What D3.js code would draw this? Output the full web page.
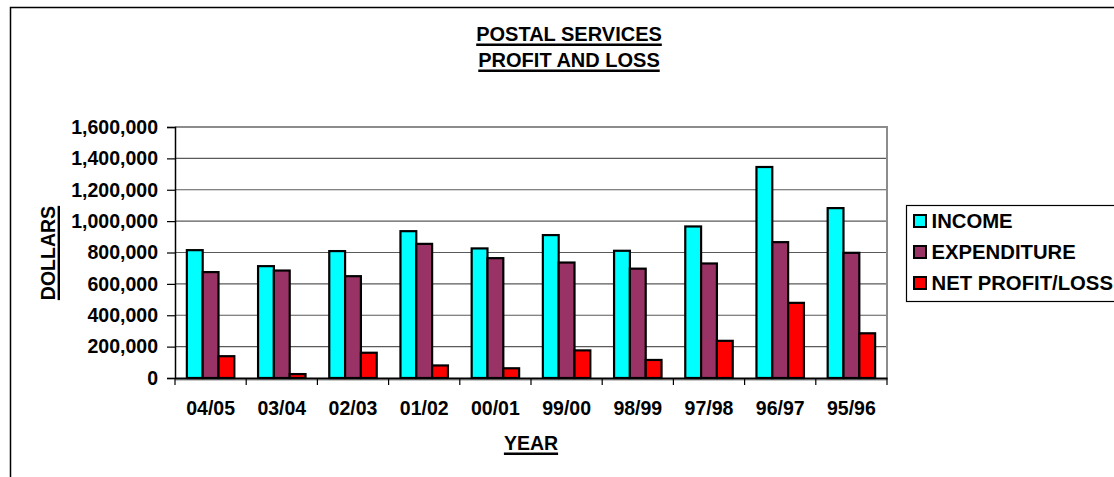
<!DOCTYPE html>
<html>
<head>
<meta charset="utf-8">
<script src="https://cdn.jsdelivr.net/npm/d3@7"></script>
<style>
  html, body { margin: 0; padding: 0; background: #fff; }
  svg { display: block; }
  text { font-family: "Liberation Sans", Arial, sans-serif; font-weight: bold; fill: #000; }
</style>
</head>
<body>
<svg id="chart" width="1114" height="477"></svg>
<script>
// Postal services profit and loss, by financial year
const years = ["04/05", "03/04", "02/03", "01/02", "00/01", "99/00", "98/99", "97/98", "96/97", "95/96"];
const income = [815000, 713000, 809000, 936000, 826000, 911000, 811000, 966000, 1345000, 1083000];
const expenditure = [675000, 685000, 649000, 855000, 764000, 736000, 697000, 730000, 866000, 798000];
const netProfit = [139000, 25000, 161000, 80000, 62000, 176000, 115000, 237000, 479000, 285000];
const seriesNames = ["INCOME", "EXPENDITURE", "NET PROFIT/LOSS"];
const seriesColors = ["#00FFFF", "#993366", "#FF0000"];
const yTicks = [0, 200000, 400000, 600000, 800000, 1000000, 1200000, 1400000, 1600000];
const titleLines = ["POSTAL SERVICES", "PROFIT AND LOSS"];

const svg = d3.select("#chart");
const plot = { left: 175, top: 127, right: 887, bottom: 378 };

// outer chart frame
svg.append("rect")
  .attr("x", 10.5).attr("y", 7.5)
  .attr("width", 1130).attr("height", 500)
  .attr("fill", "#fff").attr("stroke", "#000").attr("stroke-width", 1.5);

const x = d3.scaleBand().domain(years).range([plot.left, plot.right]).padding(0);
const y = d3.scaleLinear().domain([0, 1600000]).range([plot.bottom, plot.top]);

// bars: gap between groups is 150% of a bar width
const bw = x.bandwidth() / 4.5;
const inner = d3.scaleBand().domain(seriesNames).range([0, bw * 3]).padding(0);

// gridlines
svg.append("g")
  .selectAll("line")
  .data(yTicks.filter(d => d > 0 && d < 1600000))
  .join("line")
  .attr("x1", plot.left).attr("x2", plot.right)
  .attr("y1", d => y(d)).attr("y2", d => y(d))
  .attr("stroke", "#5a5a5a").attr("stroke-width", 1.2);

// plot area top and right border
svg.append("path")
  .attr("d", `M${plot.left},${y(1600000)}H${plot.right}V${plot.bottom}`)
  .attr("fill", "none").attr("stroke", "#8c8c8c").attr("stroke-width", 2);

// soft shadow along the baseline
svg.append("line")
  .attr("x1", plot.left).attr("x2", plot.right)
  .attr("y1", plot.bottom + 2).attr("y2", plot.bottom + 2)
  .attr("stroke", "#c8c8c8").attr("stroke-width", 2);

const seriesData = [income, expenditure, netProfit];
const barRows = [];
years.forEach((yr, i) => {
  seriesNames.forEach((s, j) => barRows.push({ year: yr, series: s, color: seriesColors[j], value: seriesData[j][i] }));
});

svg.append("g")
  .selectAll("rect")
  .data(barRows)
  .join("rect")
  .attr("x", d => x(d.year) + bw * 0.75 + inner(d.series))
  .attr("width", inner.bandwidth())
  .attr("y", d => y(d.value))
  .attr("height", d => y(0) - y(d.value))
  .attr("fill", d => d.color)
  .attr("stroke", "#000").attr("stroke-width", 2.2);

// y axis
const yAxis = svg.append("g")
  .attr("transform", `translate(${plot.left},0)`)
  .call(d3.axisLeft(y).tickValues(yTicks).tickFormat(d3.format(",")).tickSize(8).tickPadding(9));
yAxis.select(".domain").attr("stroke", "#000").attr("stroke-width", 1.5);
yAxis.selectAll(".tick line").attr("stroke", "#000").attr("stroke-width", 1.2);
yAxis.selectAll("text")
  .style("font-family", "'Liberation Sans', Arial, sans-serif")
  .style("font-weight", "bold").style("font-size", "19.5px").attr("fill", "#000");

// x axis labels
const xAxis = svg.append("g")
  .attr("transform", `translate(0,${plot.bottom})`)
  .call(d3.axisBottom(x).tickSize(0).tickPadding(23));
xAxis.select(".domain").attr("stroke", "#000").attr("stroke-width", 2);
xAxis.selectAll("text")
  .style("font-family", "'Liberation Sans', Arial, sans-serif")
  .style("font-weight", "bold").style("font-size", "19.5px").attr("fill", "#000");

// x tick marks at category boundaries
const bounds = years.map(d => x(d)).concat([x(years[years.length - 1]) + x.bandwidth()]);
svg.append("g")
  .selectAll("line")
  .data(bounds)
  .join("line")
  .attr("x1", d => d).attr("x2", d => d)
  .attr("y1", plot.bottom).attr("y2", plot.bottom + 7)
  .attr("stroke", "#000").attr("stroke-width", 1.2);

// underlined text helper
function underlined(g, txt, size, lineY) {
  const t = g.append("text").text(txt).attr("font-size", size).attr("text-anchor", "middle");
  const w = t.node().getComputedTextLength();
  g.append("line")
    .attr("x1", -w / 2).attr("x2", w / 2)
    .attr("y1", lineY).attr("y2", lineY)
    .attr("stroke", "#000").attr("stroke-width", 2.4);
  return t;
}

// title
const titleX = 569;
underlined(svg.append("g").attr("transform", `translate(${titleX},41)`), titleLines[0], 20, 3.8);
underlined(svg.append("g").attr("transform", `translate(${titleX},67)`), titleLines[1], 20, 3.8);

// axis titles
underlined(svg.append("g").attr("transform", `translate(${(plot.left + plot.right) / 2},450)`), "YEAR", 19.5, 3.8);
underlined(svg.append("g").attr("transform", `translate(55,253) rotate(-90)`), "DOLLARS", 19.5, 3.8);

// legend
const legend = svg.append("g").attr("transform", "translate(906,205)");
legend.append("rect")
  .attr("x", 0.5).attr("y", 0.5).attr("width", 230).attr("height", 96)
  .attr("fill", "#fff").attr("stroke", "#000").attr("stroke-width", 1.2);
const rowY = d3.scalePoint().domain(seriesNames).range([16, 78]);
const items = legend.selectAll("g.item").data(seriesNames).join("g")
  .attr("class", "item")
  .attr("transform", d => `translate(0,${rowY(d)})`);
items.append("rect")
  .attr("x", 8).attr("y", -6).attr("width", 12).attr("height", 12)
  .attr("fill", (d, i) => seriesColors[i]).attr("stroke", "#000").attr("stroke-width", 2);
items.append("text")
  .attr("x", 25.5).attr("y", 7.2)
  .attr("font-size", 20.3)
  .text(d => d);
</script>
</body>
</html>
